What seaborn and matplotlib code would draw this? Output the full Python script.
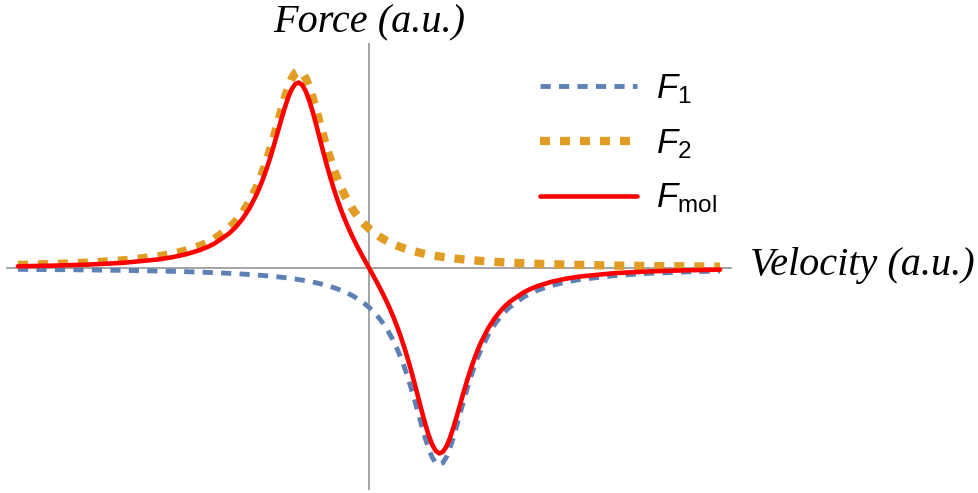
import matplotlib
matplotlib.use("Agg")
import matplotlib.pyplot as plt
import seaborn as sns
import pandas as pd

# Velocity samples (a.u.), denser around the two resonances
velocity = [-5.0, -4.5, -4.0, -3.5, -3.0, -2.8, -2.6, -2.4, -2.3, -2.2, -2.0, -1.9,
            -1.8, -1.7, -1.6, -1.55, -1.5, -1.45, -1.4, -1.35, -1.3, -1.25, -1.2,
            -1.15, -1.1, -1.05, -1.0, -0.95, -0.9, -0.85, -0.8, -0.75, -0.7, -0.65,
            -0.6, -0.55, -0.5, -0.45, -0.4, -0.35, -0.3, -0.25, -0.2, -0.15, -0.1,
            -0.05, 0.0,
            0.05, 0.1, 0.15, 0.2, 0.25, 0.3, 0.35, 0.4, 0.45, 0.5, 0.55, 0.6, 0.65,
            0.7, 0.75, 0.8, 0.85, 0.9, 0.95, 1.0, 1.05, 1.1, 1.15, 1.2, 1.25, 1.3,
            1.35, 1.4, 1.45, 1.5, 1.55, 1.6, 1.7, 1.8, 1.9, 2.0, 2.2, 2.3, 2.4, 2.6,
            2.8, 3.0, 3.5, 4.0, 4.5, 5.0]

# Force from the beam pushing toward negative velocity
force_1 = [-0.0069, -0.0082, -0.0099, -0.0122, -0.0154, -0.0170, -0.0189, -0.0212,
           -0.0224, -0.0238, -0.0270, -0.0289, -0.0309, -0.0332, -0.0357, -0.0370,
           -0.0385, -0.0400, -0.0416, -0.0433, -0.0451, -0.0471, -0.0491, -0.0513,
           -0.0536, -0.0561, -0.0588, -0.0617, -0.0648, -0.0681, -0.0716, -0.0755,
           -0.0796, -0.0841, -0.0890, -0.0943, -0.1000, -0.1063, -0.1131, -0.1206,
           -0.1289, -0.1379, -0.1479, -0.1590, -0.1712, -0.1848, -0.2000,
           -0.2169, -0.2358, -0.2571, -0.2809, -0.3077, -0.3378, -0.3717, -0.4098,
           -0.4525, -0.5000, -0.5525, -0.6098, -0.6711, -0.7353, -0.8000, -0.8621,
           -0.9174, -0.9615, -0.9901, -1.0000, -0.9901, -0.9615, -0.9174, -0.8621,
           -0.8000, -0.7353, -0.6711, -0.6098, -0.5525, -0.5000, -0.4525, -0.4098,
           -0.3378, -0.2809, -0.2358, -0.2000, -0.1479, -0.1289, -0.1131, -0.0890,
           -0.0716, -0.0588, -0.0385, -0.0270, -0.0200, -0.0154]

# Force from the counter-propagating beam
force_2 = [0.0154, 0.0200, 0.0270, 0.0385, 0.0588, 0.0716, 0.0890, 0.1131, 0.1289,
           0.1479, 0.2000, 0.2358, 0.2809, 0.3378, 0.4098, 0.4525, 0.5000, 0.5525,
           0.6098, 0.6711, 0.7353, 0.8000, 0.8621, 0.9174, 0.9615, 0.9901, 1.0000,
           0.9901, 0.9615, 0.9174, 0.8621, 0.8000, 0.7353, 0.6711, 0.6098, 0.5525,
           0.5000, 0.4525, 0.4098, 0.3717, 0.3378, 0.3077, 0.2809, 0.2571, 0.2358,
           0.2169, 0.2000,
           0.1848, 0.1712, 0.1590, 0.1479, 0.1379, 0.1289, 0.1206, 0.1131, 0.1063,
           0.1000, 0.0943, 0.0890, 0.0841, 0.0796, 0.0755, 0.0716, 0.0681, 0.0648,
           0.0617, 0.0588, 0.0561, 0.0536, 0.0513, 0.0491, 0.0471, 0.0451, 0.0433,
           0.0416, 0.0400, 0.0385, 0.0370, 0.0357, 0.0332, 0.0309, 0.0289, 0.0270,
           0.0238, 0.0224, 0.0212, 0.0189, 0.0170, 0.0154, 0.0122, 0.0099, 0.0082,
           0.0069]

# Net molasses force
force_mol = [0.0085, 0.0118, 0.0171, 0.0263, 0.0434, 0.0546, 0.0701, 0.0919, 0.1065,
             0.1241, 0.1730, 0.2069, 0.2500, 0.3046, 0.3741, 0.4155, 0.4615, 0.5125,
             0.5682, 0.6278, 0.6902, 0.7529, 0.8130, 0.8661, 0.9079, 0.9340, 0.9412,
             0.9284, 0.8967, 0.8493, 0.7905, 0.7245, 0.6557, 0.5870, 0.5208, 0.4582,
             0.4000, 0.3462, 0.2967, 0.2511, 0.2089, 0.1698, 0.1330, 0.0981, 0.0646,
             0.0321, 0.0000,
             -0.0321, -0.0646, -0.0981, -0.1330, -0.1698, -0.2089, -0.2511, -0.2967,
             -0.3462, -0.4000, -0.4582, -0.5208, -0.5870, -0.6557, -0.7245, -0.7905,
             -0.8493, -0.8967, -0.9284, -0.9412, -0.9340, -0.9079, -0.8661, -0.8130,
             -0.7529, -0.6902, -0.6278, -0.5682, -0.5125, -0.4615, -0.4155, -0.3741,
             -0.3046, -0.2500, -0.2069, -0.1730, -0.1241, -0.1065, -0.0919, -0.0701,
             -0.0546, -0.0434, -0.0263, -0.0171, -0.0118, -0.0085]

series_labels = [r"$F_1$", r"$F_2$", r"$F_{\mathrm{mol}}$"]

df = pd.DataFrame({"v": velocity, "F1": force_1, "F2": force_2, "Fmol": force_mol})

sns.set_theme(style="white")
plt.rcParams["mathtext.fontset"] = "custom"
plt.rcParams["mathtext.it"] = "Liberation Sans:italic"
plt.rcParams["mathtext.rm"] = "Liberation Sans"
plt.rcParams["mathtext.sf"] = "Liberation Sans"

fig = plt.figure(figsize=(9.79, 4.93), dpi=100)
ax = fig.add_axes([6 / 979, 3 / 493, 726 / 979, 447 / 493])

axis_gray = "#8c8c8c"
ax.axhline(0, color=axis_gray, lw=1.1, zorder=1)
ax.axvline(0, color=axis_gray, lw=1.1, zorder=1)

sns.lineplot(data=df, x="v", y="F1", ax=ax, color="#5E81B5", linewidth=3.5,
             linestyle=(0, (2.1, 1.7)), label=series_labels[0], zorder=3)
sns.lineplot(data=df, x="v", y="F2", ax=ax, color="#E19C24", linewidth=6.0,
             linestyle=(0, (1.2, 1.2)), label=series_labels[1], zorder=2)
sns.lineplot(data=df, x="v", y="Fmol", ax=ax, color="#FF0000", linewidth=3.3,
             label=series_labels[2], zorder=4)

ax.set_xlim(-5.17, 5.17)
ax.set_ylim(-1.127, 1.142)
ax.set_xlabel("")
ax.set_ylabel("")
ax.set_xticks([])
ax.set_yticks([])
for s in ax.spines.values():
    s.set_visible(False)

leg = ax.legend(loc="upper left", bbox_to_anchor=(540 / 979, 1 - 71 / 493),
                bbox_transform=fig.transFigure, frameon=False, fontsize=25,
                handlelength=2.8, handletextpad=0.55, labelspacing=0.58,
                borderpad=0, borderaxespad=0)
for t in leg.get_texts():
    t.set_color("black")

serif_it = dict(family="Liberation Serif", style="italic", fontsize=29, color="black")
fig.text(369 / 979, 1 - 32 / 493, "Force (a.u.)", ha="center", va="baseline", **serif_it)
fig.text(750 / 979, 1 - 275 / 493, "Velocity (a.u.)", ha="left", va="baseline", **serif_it)

fig.savefig("out.png", dpi=100)
